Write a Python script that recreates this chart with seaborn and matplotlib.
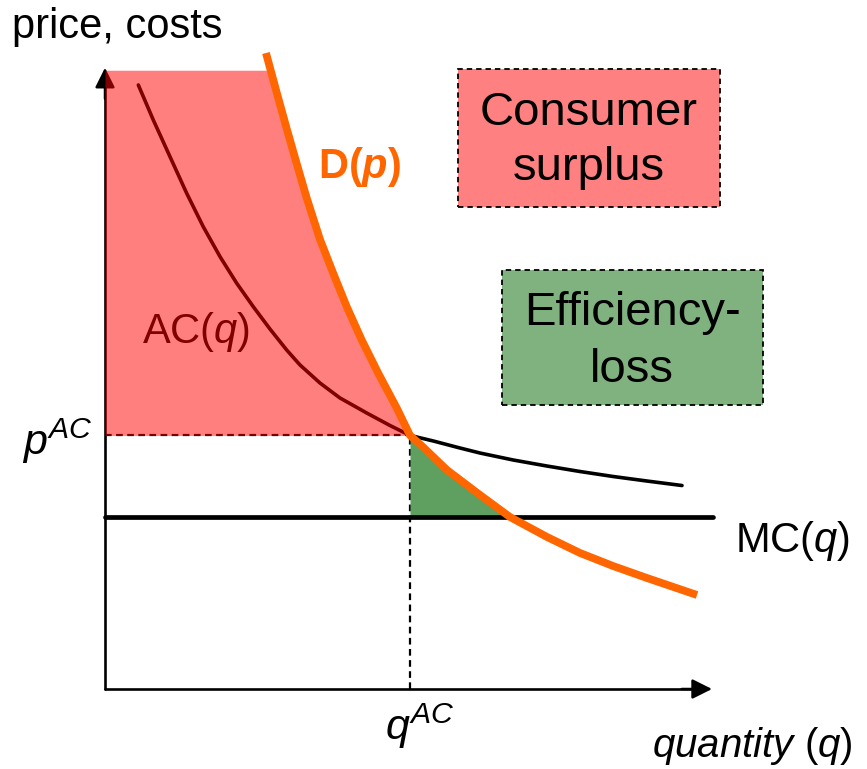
import numpy as np
import matplotlib
matplotlib.use("Agg")
import matplotlib.pyplot as plt
import seaborn as sns
from matplotlib.patches import Rectangle

# ---------------- data ----------------
demand_q = [2.652, 2.829, 2.993, 3.158, 3.323, 3.542, 3.761, 3.982, 4.229, 4.502,
            4.806, 5.025, 5.239, 5.634, 6.178, 6.672, 7.282, 7.825, 8.369, 8.929, 9.753]
demand_p = [10.258, 9.619, 9.039, 8.474, 7.919, 7.250, 6.702, 6.166, 5.629, 5.092,
            4.532, 4.090, 3.903, 3.532, 3.129, 2.774, 2.452, 2.194, 1.984, 1.790, 1.516]
ac_q = [0.549, 0.796, 1.071, 1.346, 1.619, 1.895, 2.170, 2.443, 2.718, 2.993, 3.213,
        3.542, 3.871, 4.311, 4.695, 5.025, 5.409, 5.848, 6.178, 6.722, 7.277, 7.825,
        8.374, 8.924, 9.506]
ac_p = [9.742, 9.177, 8.585, 7.995, 7.456, 6.973, 6.544, 6.166, 5.806, 5.468, 5.226,
        4.935, 4.694, 4.452, 4.250, 4.090, 4.000, 3.887, 3.806, 3.694, 3.597, 3.508,
        3.427, 3.355, 3.282]
mc_level = 2.77
mc_q_range = [0.0, 10.02]
q_ac = 5.025
p_ac = 4.09
surplus_top = 9.98
axis_q_max = 10.0
axis_p_max = 10.02

label_y = "price, costs"
label_x = r"$\mathit{quantity}$ ($q$)"
label_demand = r"D($\mathbfit{p}$)"
label_ac = r"AC($q$)"
label_mc = r"MC($q$)"
label_pac = r"$p^{AC}$"
label_qac = r"$q^{AC}$"
box_cs = "Consumer\nsurplus"
box_el = "Efficiency-\nloss"

# ---------------- style ----------------
sns.set_theme(style="white")
plt.rcParams["font.family"] = ["Liberation Sans", "DejaVu Sans"]
plt.rcParams["mathtext.fontset"] = "custom"
plt.rcParams["mathtext.rm"] = "Liberation Sans"
plt.rcParams["mathtext.it"] = "Liberation Sans:italic"
plt.rcParams["mathtext.bf"] = "Liberation Sans:bold"
plt.rcParams["mathtext.bfit"] = "Liberation Sans:italic:bold"

W, H = 867, 769
fig = plt.figure(figsize=(W / 100, H / 100), dpi=100)
ax = fig.add_axes([0, 0, 1, 1])
# pixel mapping: px = 105 + q*60.7 ; py = 689 - p*62
ax.set_xlim(-105 / 60.7, (W - 105) / 60.7)
ax.set_ylim(-(H - 689) / 62, 689 / 62)
ax.axis("off")


def fig_xy(px, py):
    return px / W, 1 - py / H


orange = "#FF6600"
arrow_style = dict(arrowstyle="-|>,head_length=0.6,head_width=0.3", color="black",
                   lw=1.8, shrinkA=0, shrinkB=0, mutation_scale=20)

# axes (drawn first so that the red overlay tints them)
ax.plot([0, 0], [0, axis_p_max - 0.2], color="black", lw=1.9, zorder=1)
ax.plot([0, axis_q_max - 0.2], [0, 0], color="black", lw=1.9, zorder=1)
ax.annotate("", xy=(0, axis_p_max), xytext=(0, axis_p_max - 0.5),
            arrowprops=arrow_style, zorder=1)
ax.annotate("", xy=(axis_q_max, 0), xytext=(axis_q_max - 0.5, 0),
            arrowprops=arrow_style, zorder=5)

# average cost curve (black, tinted by the overlay)
sns.lineplot(x=ac_q, y=ac_p, sort=False, color="black", lw=2.6, ax=ax, zorder=2)
ax.lines[-1].set_solid_joinstyle("round")
ax.text(*fig_xy(142, 343), label_ac, transform=fig.transFigure, fontsize=30,
        color="black", ha="left", va="baseline", zorder=2)

# marginal cost
sns.lineplot(x=mc_q_range, y=[mc_level, mc_level], color="black", lw=3.4, ax=ax, zorder=4)

# dashed guides
ax.plot([0, q_ac], [p_ac, p_ac], color="black", lw=1.6, ls=(0, (3, 2)), zorder=3)
ax.plot([q_ac, q_ac], [0, p_ac], color="black", lw=1.6, ls=(0, (3, 2)), zorder=3)

# consumer surplus area
dq = np.array(demand_q)
dp = np.array(demand_p)
order = np.argsort(dp)
inside = (dp > p_ac) & (dp < surplus_top)
pp = np.sort(np.concatenate([[p_ac], dp[inside], [surplus_top]]))
xx = np.interp(pp, dp[order], dq[order])
ax.fill_betweenx(pp, 0, xx, color=(1, 0, 0), alpha=0.5, lw=0, zorder=3)

# efficiency-loss triangle
inside2 = (dp > mc_level) & (dp < p_ac)
pg = np.sort(np.concatenate([[mc_level], dp[inside2], [p_ac]]))
xg = np.interp(pg, dp[order], dq[order])
ax.fill_betweenx(pg, q_ac, xg, color="#5f9f5f", lw=0, zorder=3.5)

# demand curve
sns.lineplot(x=demand_q, y=demand_p, sort=False, color=orange, lw=5.6, ax=ax, zorder=6)
ax.lines[-1].set_solid_capstyle("butt")
ax.lines[-1].set_solid_joinstyle("round")
ax.text(*fig_xy(318, 178), label_demand, transform=fig.transFigure, fontsize=30,
        color=orange, fontweight="bold", ha="left", va="baseline", zorder=7)

# labels
ax.text(*fig_xy(12, 38), label_y, transform=fig.transFigure, fontsize=30,
        ha="left", va="baseline", color="black")
ax.text(*fig_xy(853, 757), label_x, transform=fig.transFigure, fontsize=29,
        ha="right", va="baseline", color="black")
ax.text(*fig_xy(735, 552), label_mc, transform=fig.transFigure, fontsize=30,
        ha="left", va="baseline", color="black")
ax.text(*fig_xy(93, 455), label_pac, transform=fig.transFigure, fontsize=31,
        ha="right", va="baseline", color="black")
ax.text(*fig_xy(385, 740), label_qac, transform=fig.transFigure, fontsize=31,
        ha="left", va="baseline", color="black")

# legend-like boxes
for (x0, y0, x1, y1, fc, txt, cx, b1, b2) in [
    (458, 69, 720, 207, "#FF8080", box_cs, 589, 125, 180),
    (502, 270, 763, 405, "#80B280", box_el, 632, 325, 382),
]:
    fx0, fy1 = fig_xy(x0, y0)
    fx1, fy0 = fig_xy(x1, y1)
    fig.patches.append(Rectangle((fx0, fy0), fx1 - fx0, fy1 - fy0,
                                 transform=fig.transFigure, facecolor=fc,
                                 edgecolor="black", lw=1.3, ls=(0, (3, 2.2)),
                                 zorder=1))
    l1, l2 = txt.split("\n")
    fig.text(*fig_xy(cx, b1), l1, fontsize=34, ha="center", va="baseline", color="black")
    fig.text(*fig_xy(cx, b2), l2, fontsize=34, ha="center", va="baseline", color="black")

fig.savefig("out.png", dpi=100)
